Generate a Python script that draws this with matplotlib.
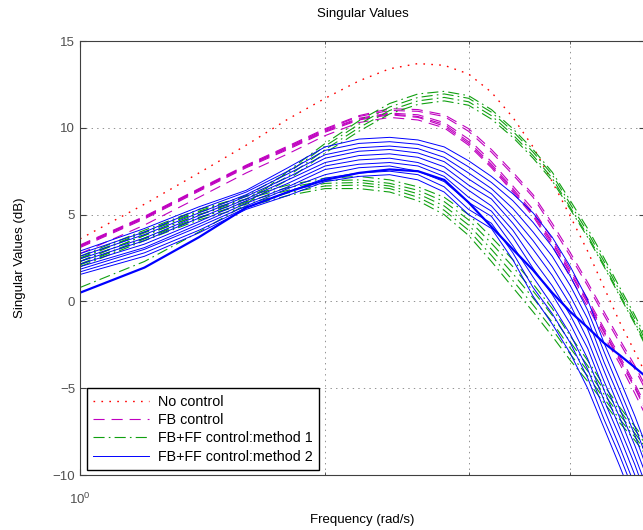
import matplotlib
matplotlib.use('Agg')
import matplotlib.pyplot as plt
from matplotlib.ticker import FixedLocator, NullFormatter

plt.rcParams['font.family'] = ['Liberation Sans', 'DejaVu Sans']
plt.rcParams['lines.scale_dashes'] = False

# frequency grid (rad/s)
freq = [1.0, 1.2, 1.4, 1.6, 1.8, 2.0, 2.2, 2.4, 2.6, 2.8, 3.0,
        3.2, 3.4, 3.6, 3.8, 4.0, 4.2, 4.4, 4.6, 4.8, 5.0]

# singular values (dB)
no_control = [3.6, 5.6, 7.4, 9.0, 10.5, 11.7, 12.7, 13.4, 13.7, 13.6, 13.1,
              12.05, 10.6, 8.9, 6.9, 4.9, 2.9, 0.8, -1.2, -2.9, -4.6]

fb_control = [
    [2.75, 4.4, 6.0, 7.4, 8.5, 9.55, 10.3, 10.6, 10.45, 10.0, 9.0,
     7.7, 6.3, 4.9, 3.2, 1.4, -0.3, -2.0, -3.6, -5.3, -7.0],
    [3.1, 4.75, 6.35, 7.7, 8.75, 9.75, 10.45, 10.75, 10.6, 10.1, 9.1,
     7.8, 6.4, 5.0, 3.35, 1.6, -0.1, -1.8, -3.4, -5.0, -6.7],
    [3.15, 4.8, 6.4, 7.75, 8.8, 9.8, 10.5, 10.8, 10.65, 10.2, 9.2,
     7.9, 6.5, 5.1, 3.45, 1.7, 0.0, -1.7, -3.3, -4.9, -6.6],
    [3.2, 4.85, 6.45, 7.8, 8.85, 9.85, 10.55, 10.85, 10.75, 10.3, 9.35,
     8.05, 6.65, 5.3, 3.6, 1.85, 0.15, -1.55, -3.15, -4.75, -6.4],
    [3.2, 4.85, 6.45, 7.8, 8.9, 9.9, 10.65, 11.0, 10.95, 10.65, 9.8,
     8.6, 7.3, 6.0, 4.3, 2.6, 0.9, -0.8, -2.4, -3.9, -5.5],
    [3.25, 4.9, 6.5, 7.85, 8.95, 9.95, 10.7, 11.1, 11.05, 10.75, 9.95,
     8.75, 7.45, 6.15, 4.5, 2.8, 1.1, -0.6, -2.2, -3.7, -5.3],
]

method1 = [
    # upper branch
    [2.1, 3.6, 4.8, 5.7, 7.0, 8.55, 9.8, 10.8, 11.35, 11.55, 11.3,
     10.5, 9.45, 8.25, 6.95, 5.3, 3.7, 2.0, 0.3, -1.3, -3.0],
    [2.3, 3.8, 5.0, 5.9, 7.2, 8.75, 10.0, 11.0, 11.55, 11.75, 11.5,
     10.7, 9.6, 8.4, 7.1, 5.4, 3.8, 2.1, 0.4, -1.2, -2.9],
    [2.5, 4.0, 5.2, 6.1, 7.4, 8.95, 10.2, 11.2, 11.75, 11.95, 11.7,
     10.9, 9.8, 8.6, 7.3, 5.6, 4.0, 2.3, 0.6, -1.0, -2.7],
    [0.8, 2.3, 4.0, 5.6, 7.5, 9.1, 10.4, 11.4, 11.95, 12.1, 11.85,
     11.05, 9.95, 8.75, 7.45, 5.8, 4.2, 2.5, 0.8, -0.8, -2.5],
    # lower branch
    [2.0, 3.5, 4.7, 5.45, 6.1, 6.5, 6.5, 6.3, 5.8, 5.0, 3.8,
     2.3, 0.8, -0.6, -2.0, -3.4, -4.6, -5.85, -7.0, -8.0, -9.1],
    [2.15, 3.65, 4.85, 5.6, 6.25, 6.65, 6.7, 6.5, 6.0, 5.25, 4.1,
     2.65, 1.2, -0.2, -1.6, -3.05, -4.3, -5.6, -6.8, -7.8, -8.9],
    [2.3, 3.8, 5.0, 5.75, 6.4, 6.8, 6.85, 6.65, 6.2, 5.5, 4.4,
     3.0, 1.6, 0.2, -1.2, -2.7, -4.0, -5.35, -6.55, -7.6, -8.7],
    [2.45, 3.95, 5.15, 5.9, 6.55, 6.95, 7.0, 6.8, 6.4, 5.75, 4.7,
     3.35, 2.0, 0.6, -0.8, -2.35, -3.7, -5.1, -6.3, -7.4, -8.5],
    [2.6, 4.1, 5.3, 6.05, 6.7, 7.1, 7.2, 7.0, 6.6, 6.0, 5.0,
     3.7, 2.4, 1.0, -0.4, -2.0, -3.4, -4.85, -6.1, -7.2, -8.3],
]

method2 = [
    [1.55, 2.6, 3.95, 5.3, 6.1, 6.9, 7.2, 7.3, 7.0, 6.3, 5.0,
     4.2, 2.4, 0.3, -1.3, -3.0, -5.0, -7.3, -9.5, -11.7, -14.0],
    [1.7, 2.8, 4.1, 5.4, 6.3, 7.1, 7.4, 7.5, 7.3, 6.6, 5.3,
     4.5, 2.8, 0.8, -0.7, -2.4, -4.4, -6.8, -8.9, -11.1, -13.4],
    [1.85, 3.0, 4.3, 5.5, 6.5, 7.3, 7.7, 7.8, 7.5, 6.9, 5.7,
     4.9, 3.2, 1.4, -0.2, -1.9, -3.9, -6.2, -8.4, -10.6, -12.8],
    [2.0, 3.1, 4.45, 5.65, 6.6, 7.6, 7.9, 8.0, 7.8, 7.2, 6.0,
     5.2, 3.7, 1.9, 0.4, -1.3, -3.3, -5.7, -7.8, -10.0, -12.3],
    [2.15, 3.3, 4.6, 5.8, 6.8, 7.8, 8.15, 8.25, 8.0, 7.45, 6.4,
     5.5, 4.1, 2.4, 0.9, -0.8, -2.7, -5.1, -7.3, -9.4, -11.7],
    [2.3, 3.5, 4.8, 5.9, 7.0, 8.0, 8.4, 8.5, 8.3, 7.75, 6.7,
     5.9, 4.5, 3.0, 1.5, -0.2, -2.2, -4.6, -6.7, -8.9, -11.1],
    [2.45, 3.65, 4.95, 6.05, 7.15, 8.25, 8.65, 8.75, 8.55, 8.05, 7.05,
     6.2, 4.9, 3.5, 2.0, 0.3, -1.6, -4.0, -6.2, -8.3, -10.5],
    [2.6, 3.85, 5.1, 6.15, 7.35, 8.45, 8.85, 8.95, 8.8, 8.3, 7.4,
     6.5, 5.35, 4.0, 2.6, 0.9, -1.0, -3.5, -5.6, -7.7, -10.0],
    [2.75, 4.0, 5.3, 6.3, 7.5, 8.7, 9.1, 9.2, 9.05, 8.6, 7.75,
     6.85, 5.8, 4.55, 3.15, 1.45, -0.5, -2.9, -5.1, -7.2, -9.4],
    [2.9, 4.2, 5.45, 6.4, 7.7, 8.9, 9.35, 9.45, 9.3, 8.9, 8.1,
     7.2, 6.2, 5.1, 3.7, 2.0, 0.1, -2.4, -4.5, -6.6, -8.8],
]
# the two slowly decaying method 2 curves (drawn on top of each other)
method2_slow = [0.5, 1.95, 3.7, 5.4, 6.3, 7.0, 7.4, 7.6, 7.5, 7.0, 5.7,
                4.3, 3.0, 1.8, 0.5, -0.6, -1.5, -2.4, -3.1, -3.8, -4.5]

labels = ['No control', 'FB control', 'FB+FF control:method 1',
          'FB+FF control:method 2']

fig = plt.figure(figsize=(6.43, 5.30), dpi=100)
ax = fig.add_axes([80 / 643, 55 / 530, 565 / 643, 434 / 530])
ax.set_xscale('log')

h_red, = ax.plot(freq, no_control, color='red', lw=1.0,
                 linestyle=(0, (1.2, 4.5)))
h_mag = None
for sv in fb_control:
    h_mag, = ax.plot(freq, sv, color='#c000c0', lw=0.8,
                     linestyle=(0, (8, 5)))
h_grn = None
for sv in method1:
    h_grn, = ax.plot(freq, sv, color='#10a010', lw=0.8,
                     linestyle=(0, (8, 3, 1.2, 3)))
h_blu = None
for sv in method2:
    h_blu, = ax.plot(freq, sv, color='blue', lw=0.7)
ax.plot(freq, method2_slow, color='blue', lw=1.6)

ax.set_xlim(1, 4.94)
ax.set_ylim(-10, 15)

ax.xaxis.set_major_locator(FixedLocator([1]))
ax.xaxis.set_minor_locator(FixedLocator([2, 3, 4, 5, 6, 7, 8, 9]))
ax.xaxis.set_minor_formatter(NullFormatter())
ax.set_xticklabels([r'$\mathregular{10^0}$'])
ax.set_yticks([-10, -5, 0, 5, 10, 15])

ax.grid(True, which='major', color='#808080', lw=0.6, linestyle=(0, (1, 3)))
ax.grid(True, which='minor', axis='x', color='#808080', lw=0.6,
        linestyle=(0, (1, 3)))

ax.tick_params(which='both', direction='in', top=True, right=True,
               colors='#404040', labelcolor='#505050', labelsize=9.5)
ax.tick_params(which='major', length=4)
ax.tick_params(which='minor', length=2)
ax.tick_params(axis='x', pad=12)
for s in ax.spines.values():
    s.set_color('#404040')

ax.set_title('Singular Values', fontsize=9.5, pad=17)
ax.set_xlabel('Frequency (rad/s)', fontsize=9.5, labelpad=5)
ax.set_ylabel('Singular Values (dB)', fontsize=9.5, labelpad=19)

leg = ax.legend([h_red, h_mag, h_grn, h_blu], labels, loc='lower left',
                bbox_to_anchor=(7 / 565, 5 / 434), borderaxespad=0,
                fontsize=10.3, fancybox=False, framealpha=1,
                edgecolor='black', handlelength=3.9, borderpad=0.45,
                labelspacing=0.3, handletextpad=0.6)
leg.get_frame().set_linewidth(1.0)

fig.savefig('out.png', dpi=100)
